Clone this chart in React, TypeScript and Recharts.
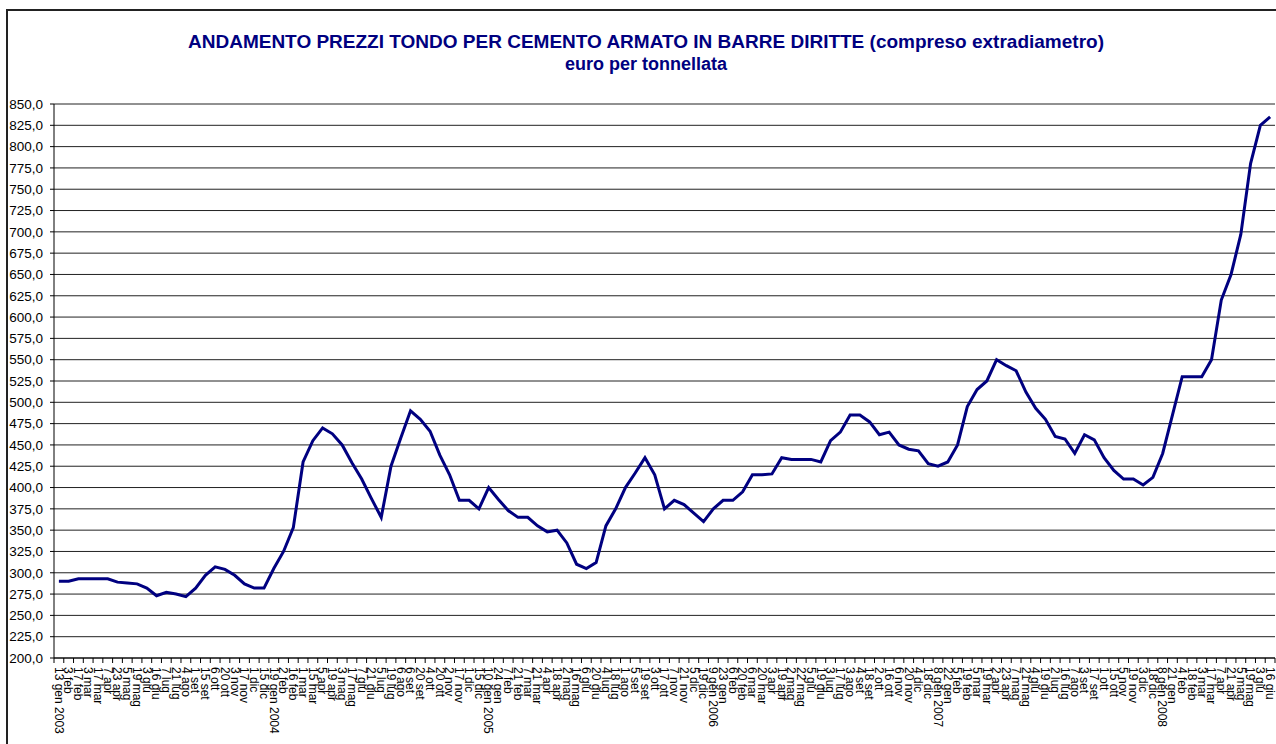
import { LineChart, Line, XAxis, YAxis, CartesianGrid } from 'recharts';

// categorie (date di rilevazione) per anno
const labels2003 = ['13 gen 2003', '3 feb', '17 feb', '3 mar', '17 mar', '7 apr', '23 apr', '5 mag', '19 mag', '3 giu', '16 giu', '7 lug', '21 lug', '4 ago', '1 set', '15 set', '6 ott', '20 ott', '3 nov', '17 nov', '1 dic', '15 dic'];
const labels2004 = ['19 gen 2004', '2 feb', '16 feb', '1 mar', '15 mar', '5 apr', '19 apr', '3 mag', '17 mag', '7 giu', '21 giu', '5 lug', '19 lug', '6 ago', '6 set', '20 set', '4 ott', '20 ott', '2 nov', '17 nov', '1 dic', '15 dic'];
const labels2005 = ['10 gen 2005', '24 gen', '7 feb', '21 feb', '7 mar', '21 mar', '4 apr', '18 apr', '2 mag', '16 mag', '6 giu', '20 giu', '4 lug', '18 lug', '1 ago', '5 set', '19 set', '3 ott', '17 ott', '7 nov', '21 nov', '5 dic', '19 dic'];
const labels2006 = ['9 gen 2006', '23 gen', '6 feb', '20 feb', '6 mar', '20 mar', '3 apr', '19 apr', '2 mag', '22 mag', '5 giu', '19 giu', '3 lug', '17 lug', '3 ago', '4 set', '18 set', '2 ott', '16 ott', '6 nov', '20 nov', '4 dic', '18 dic'];
const labels2007 = ['8 gen 2007', '22 gen', '5 feb', '19 feb', '5 mar', '19 mar', '2 apr', '23 apr', '7 mag', '21 mag', '4 giu', '19 giu', '2 lug', '16 lug', '7 ago', '3 set', '17 set', '1 ott', '15 ott', '5 nov', '19 nov', '3 dic', '18 dic'];
const labels2008 = ['8 gen 2008', '21 gen', '4 feb', '18 feb', '3 mar', '17 mar', '7 apr', '21 apr', '5 mag', '19 mag', '3 giu', '16 giu'];

// prezzi in euro per tonnellata
const prices2003 = [290, 290, 293, 293, 293, 293, 289, 288, 287, 282, 273, 277, 275, 272, 282, 297, 307, 304, 297, 287, 282, 282];
const prices2004 = [305, 325, 353, 430, 455, 470, 463, 450, 429, 410, 387, 365, 425, 458, 490, 480, 466, 438, 415, 385, 385, 375];
const prices2005 = [400, 386, 373, 365, 365, 355, 348, 350, 335, 310, 305, 312, 355, 375, 400, 417, 435, 415, 375, 385, 380, 370, 360];
const prices2006 = [375, 385, 385, 395, 415, 415, 416, 435, 433, 433, 433, 430, 455, 465, 485, 485, 477, 462, 465, 450, 445, 443, 428];
const prices2007 = [425, 430, 450, 495, 515, 525, 550, 543, 537, 512, 493, 480, 460, 457, 440, 462, 456, 435, 420, 410, 410, 403, 412];
const prices2008 = [440, 485, 530, 530, 530, 550, 620, 650, 697, 780, 825, 835];

const yTicks = [200, 225, 250, 275, 300, 325, 350, 375, 400, 425, 450, 475, 500, 525, 550, 575, 600, 625, 650, 675, 700, 725, 750, 775, 800, 825, 850];

const allLabels = [...labels2003, ...labels2004, ...labels2005, ...labels2006, ...labels2007, ...labels2008];
const allPrices = [...prices2003, ...prices2004, ...prices2005, ...prices2006, ...prices2007, ...prices2008];
const data = allLabels.map((label, i) => ({ idx: i, label, prezzo: allPrices[i] }));

const W = 1276;
const H = 744;
const PLOT_LEFT = 54;
const PLOT_TOP = 104;
const PLOT_RIGHT = 1275;
const PLOT_BOTTOM = 658;
const STEP = (PLOT_RIGHT - PLOT_LEFT) / allLabels.length;
const FONT = '"Liberation Sans", Arial, sans-serif';

const DateTick = (props: any) => {
  const { x, payload } = props;
  const i = payload.value;
  const left = x - STEP / 2;
  const ty = PLOT_BOTTOM + 9;
  return (
    <g>
      <line x1={left} y1={PLOT_BOTTOM} x2={left} y2={PLOT_BOTTOM + 5} stroke="#000" />
      {i === allLabels.length - 1 && (
        <line x1={x + STEP / 2} y1={PLOT_BOTTOM} x2={x + STEP / 2} y2={PLOT_BOTTOM + 5} stroke="#000" />
      )}
      <text
        x={x}
        y={ty}
        dy="0.35em"
        transform={`rotate(90, ${x}, ${ty})`}
        textAnchor="start"
        fontSize={12}
        fontFamily={FONT}
        fill="#000"
      >
        {allLabels[i]}
      </text>
    </g>
  );
};

export default function App() {
  return (
    <div style={{ position: 'absolute', left: 0, top: 0, width: W, height: H, background: '#fff', overflow: 'hidden' }}>
      {/* cornice del grafico */}
      <div style={{ position: 'absolute', left: 6, top: 9, width: W + 20, height: H + 20, border: '2px solid #222', boxSizing: 'border-box' }} />
      <div style={{ position: 'absolute', left: 0, width: 1292, top: 30, textAlign: 'center', fontFamily: FONT, fontWeight: 'bold', color: '#000080', lineHeight: '23px' }}>
        <div style={{ fontSize: 19 }}>ANDAMENTO PREZZI TONDO PER CEMENTO ARMATO IN BARRE DIRITTE (compreso extradiametro)</div>
        <div style={{ fontSize: 18 }}>euro per tonnellata</div>
      </div>
      <LineChart
        width={W}
        height={H}
        data={data}
        margin={{ top: PLOT_TOP, right: W - PLOT_RIGHT, bottom: 0, left: 0 }}
        style={{ position: 'absolute', left: 0, top: 0 }}
      >
        <CartesianGrid horizontal vertical={false} stroke="#222" />
        <XAxis
          dataKey="idx"
          type="category"
          scale="band"
          interval={0}
          height={H - PLOT_BOTTOM}
          tickLine={false}
          axisLine={{ stroke: '#000' }}
          tick={<DateTick />}
        />
        <YAxis
          width={PLOT_LEFT}
          domain={[200, 850]}
          ticks={yTicks}
          interval={0}
          allowDataOverflow
          tickSize={4}
          tickMargin={7}
          tickFormatter={(v: number) => v.toFixed(1).replace('.', ',')}
          tick={{ fontSize: 13.5, fontFamily: FONT, fill: '#000' }}
          axisLine={{ stroke: '#000' }}
          tickLine={{ stroke: '#000' }}
        />
        <Line
          type="linear"
          dataKey="prezzo"
          stroke="#000080"
          strokeWidth={3}
          dot={false}
          isAnimationActive={false}
        />
      </LineChart>
    </div>
  );
}
